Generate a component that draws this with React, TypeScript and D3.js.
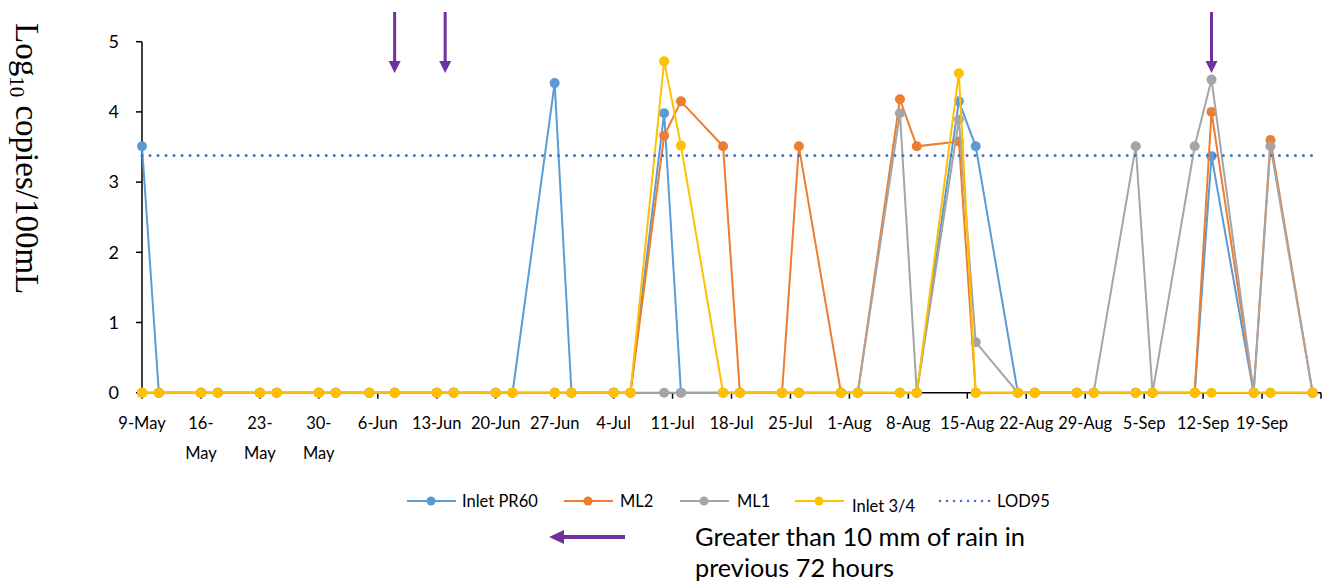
import React from "react";
import * as d3 from "d3";

// Sampling dates (2016) and log10 copies/100mL per site
const sampleDates = [
  "2016-05-09", "2016-05-11", "2016-05-16", "2016-05-18", "2016-05-23", "2016-05-25",
  "2016-05-30", "2016-06-01", "2016-06-05", "2016-06-08", "2016-06-13", "2016-06-15",
  "2016-06-20", "2016-06-22", "2016-06-27", "2016-06-29", "2016-07-04", "2016-07-06",
  "2016-07-10", "2016-07-12", "2016-07-17", "2016-07-19", "2016-07-24", "2016-07-26",
  "2016-07-31", "2016-08-02", "2016-08-07", "2016-08-09", "2016-08-14", "2016-08-16",
  "2016-08-21", "2016-08-23", "2016-08-28", "2016-08-30", "2016-09-04", "2016-09-06",
  "2016-09-11", "2016-09-13", "2016-09-18", "2016-09-20", "2016-09-25",
];

const inletPR60 = [
  3.51, 0, 0, 0, 0, 0, 0, 0, 0, 0, 0, 0, 0, 0, 4.41, 0, 0, 0, 3.98, 0, 0,
  0, 0, 0, 0, 0, 0, 0, 4.15, 3.51, 0, 0, 0, 0, 0, 0, 0, 3.37, 0, 0, 0,
];
const ml2 = [
  0, 0, 0, 0, 0, 0, 0, 0, 0, 0, 0, 0, 0, 0, 0, 0, 0, 0, 3.66, 4.15, 3.51,
  0, 0, 3.51, 0, 0, 4.18, 3.51, 3.58, 0, 0, 0, 0, 0, 0, 0, 0, 4.0, 0, 3.6, 0,
];
const ml1 = [
  0, 0, 0, 0, 0, 0, 0, 0, 0, 0, 0, 0, 0, 0, 0, 0, 0, 0, 0, 0, 0,
  0, 0, 0, 0, 0, 3.98, 0, 3.89, 0.72, 0, 0, 0, 0, 3.51, 0, 3.51, 4.46, 0, 3.51, 0,
];
const inlet34 = [
  0, 0, 0, 0, 0, 0, 0, 0, 0, 0, 0, 0, 0, 0, 0, 0, 0, 0, 4.72, 3.52, 0,
  0, 0, 0, 0, 0, 0, 0, 4.55, 0, 0, 0, 0, 0, 0, 0, 0, 0, 0, 0, 0,
];
const lod95 = 3.38;

// Days with more than 10 mm of rain in the previous 72 hours
const rainDates = ["2016-06-08", "2016-06-14", "2016-09-13"];

// Weekly axis ticks and their (wrapped) labels
const tickDates = [
  "2016-05-09", "2016-05-16", "2016-05-23", "2016-05-30", "2016-06-06", "2016-06-13",
  "2016-06-20", "2016-06-27", "2016-07-04", "2016-07-11", "2016-07-18", "2016-07-25",
  "2016-08-01", "2016-08-08", "2016-08-15", "2016-08-22", "2016-08-29", "2016-09-05",
  "2016-09-12", "2016-09-19", "2016-09-26",
];
const tickLabels = [
  ["9-May"], ["16-", "May"], ["23-", "May"], ["30-", "May"], ["6-Jun"], ["13-Jun"],
  ["20-Jun"], ["27-Jun"], ["4-Jul"], ["11-Jul"], ["18-Jul"], ["25-Jul"],
  ["1-Aug"], ["8-Aug"], ["15-Aug"], ["22-Aug"], ["29-Aug"], ["5-Sep"],
  ["12-Sep"], ["19-Sep"], [],
];
const yTicks = [0, 1, 2, 3, 4, 5];

const seriesNames = ["Inlet PR60", "ML2", "ML1", "Inlet 3/4"];
const seriesValues = [inletPR60, ml2, ml1, inlet34];
const seriesColors = ["#5B9BD5", "#ED7D31", "#A5A5A5", "#FFC000"];

const parse = d3.utcParse("%Y-%m-%d");
const FONT = "Lato, 'Open Sans', sans-serif";
const PURPLE = "#7030A0";
const LOD_COLOR = "#4472C4";

export default function App() {
  const x = d3
    .scaleUtc()
    .domain([parse(tickDates[0])!, parse(tickDates[tickDates.length - 1])!])
    .range([142, 1321]);
  const y = d3.scaleLinear().domain([0, 5]).range([392.7, 41.7]);

  const dates = sampleDates.map((d) => parse(d)!);
  const line = d3
    .line<number>()
    .x((_, i) => x(dates[i]))
    .y((v) => y(v));

  const legendItems = [
    { label: "Inlet PR60", color: seriesColors[0], x0: 407, tx: 462, dy: 0 },
    { label: "ML2", color: seriesColors[1], x0: 564, tx: 620, dy: 0 },
    { label: "ML1", color: seriesColors[2], x0: 680, tx: 737, dy: 0 },
    { label: "Inlet 3/4", color: seriesColors[3], x0: 795, tx: 852, dy: 5 },
  ];
  const legendY = 501;

  return (
    <svg
      width={1330}
      height={586}
      style={{ position: "absolute", left: 0, top: 0, background: "#fff" }}
    >
      {/* y axis title */}
      <text
        transform="translate(16,23) rotate(90)"
        fontFamily="'Liberation Serif', 'Times New Roman', serif"
        fontSize={33}
        fill="#000"
      >
        Log
        <tspan fontSize={21} dy={6}>10</tspan>
        <tspan dy={-6}> copies/100mL</tspan>
      </text>

      {/* y axis */}
      <line x1={142} x2={142} y1={y(5)} y2={y(0)} stroke="#000" strokeWidth={1.5} />
      {yTicks.map((t) => (
        <g key={t}>
          <line x1={136} x2={142} y1={y(t)} y2={y(t)} stroke="#000" strokeWidth={1.5} />
          <text
            x={119}
            y={y(t)}
            dy="0.35em"
            textAnchor="end"
            fontFamily={FONT}
            fontSize={18}
            fill="#000"
          >
            {t}
          </text>
        </g>
      ))}

      {/* x axis */}
      <line x1={142} x2={1321} y1={y(0)} y2={y(0)} stroke="#000" strokeWidth={1.5} />
      {tickDates.map((d, i) => {
        const tx = x(parse(d)!);
        return (
          <g key={d}>
            <line x1={tx} x2={tx} y1={y(0)} y2={y(0) + 6} stroke="#000" strokeWidth={1.5} />
            {tickLabels[i].map((s, j) => (
              <text
                key={j}
                x={tx}
                y={429 + j * 30}
                textAnchor="middle"
                fontFamily={FONT}
                fontSize={16.5}
                fill="#000"
              >
                {s}
              </text>
            ))}
          </g>
        );
      })}

      {/* series */}
      {seriesValues.map((vals, si) => (
        <g key={seriesNames[si]}>
          <path d={line(vals)!} fill="none" stroke={seriesColors[si]} strokeWidth={2} />
          {vals.map((v, i) => (
            <circle key={i} cx={x(dates[i])} cy={y(v)} r={5} fill={seriesColors[si]} />
          ))}
        </g>
      ))}

      {/* LOD95 */}
      <line
        x1={x(dates[0])}
        x2={x(dates[dates.length - 1])}
        y1={y(lod95)}
        y2={y(lod95)}
        stroke={LOD_COLOR}
        strokeWidth={3}
        strokeLinecap="round"
        strokeDasharray="0.01 8"
      />

      {/* rain arrows */}
      {rainDates.map((d) => {
        const ax = x(parse(d)!);
        return (
          <g key={d}>
            <line x1={ax} x2={ax} y1={12} y2={62} stroke={PURPLE} strokeWidth={3} />
            <path d={`M${ax - 6},61 L${ax + 6},61 L${ax},73 Z`} fill={PURPLE} />
          </g>
        );
      })}

      {/* legend */}
      {legendItems.map((it) => (
        <g key={it.label}>
          <line x1={it.x0} x2={it.x0 + 49} y1={legendY} y2={legendY} stroke={it.color} strokeWidth={2} />
          <circle cx={it.x0 + 24} cy={legendY} r={4.5} fill={it.color} />
          <text
            x={it.tx}
            y={legendY + it.dy}
            dy="0.35em"
            fontFamily={FONT}
            fontSize={16.5}
            fill="#000"
          >
            {it.label}
          </text>
        </g>
      ))}
      <line
        x1={940}
        x2={990}
        y1={legendY}
        y2={legendY}
        stroke={LOD_COLOR}
        strokeWidth={2.5}
        strokeLinecap="round"
        strokeDasharray="0.01 7"
      />
      <text x={997} y={legendY} dy="0.35em" fontFamily={FONT} fontSize={16.5} fill="#000">
        LOD95
      </text>

      {/* rain note */}
      <line x1={625} x2={562} y1={537} y2={537} stroke={PURPLE} strokeWidth={4} />
      <path d="M549,537 L564,530 L564,544 Z" fill={PURPLE} />
      <text
        x={695}
        y={546}
        fontFamily={FONT}
        fontSize={25}
        textLength={330}
        lengthAdjust="spacingAndGlyphs"
        fill="#000"
      >
        Greater than 10 mm of rain in
      </text>
      <text
        x={695}
        y={577}
        fontFamily={FONT}
        fontSize={25}
        textLength={199}
        lengthAdjust="spacingAndGlyphs"
        fill="#000"
      >
        previous 72 hours
      </text>
    </svg>
  );
}
